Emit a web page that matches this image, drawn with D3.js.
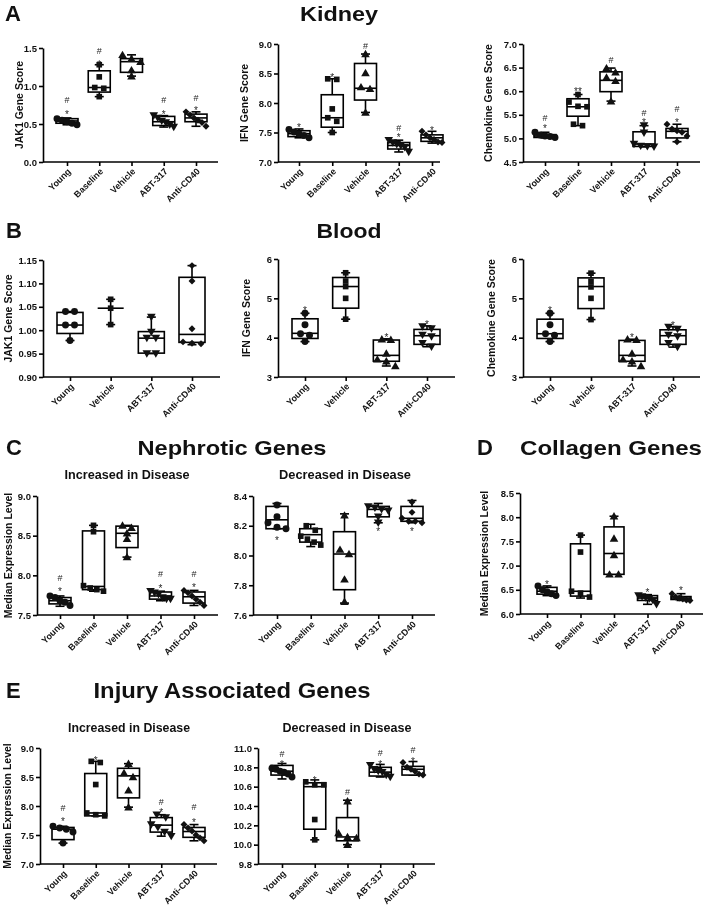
<!DOCTYPE html>
<html><head><meta charset="utf-8">
<script src="https://cdn.jsdelivr.net/npm/d3@7"></script>
<style>body{margin:0;background:#fff} text{font-family:'Liberation Sans',Arial,sans-serif} svg{will-change:transform} .sig{opacity:0.98}</style>
</head><body><script>
// ---------------- DATA ----------------
const groups5 = ["Young","Baseline","Vehicle","ABT-317","Anti-CD40"];
const groups4 = ["Young","Vehicle","ABT-317","Anti-CD40"];
// box stats: [min, q1, median, q3, max]
const kidneyJak1Box = [[0.49,0.51,0.54,0.57,0.58],[0.86,0.92,0.98,1.20,1.28],[1.13,1.18,1.32,1.36,1.41],[0.46,0.48,0.53,0.60,0.61],[0.47,0.53,0.58,0.63,0.66]];
const kidneyJak1Pts = [[0.49,0.51,0.53,0.55,0.57],[0.86,0.97,0.98,1.12,1.28],[1.41,1.36,1.32,1.21,1.13],[0.61,0.58,0.54,0.52,0.49,0.46],[0.66,0.62,0.58,0.55,0.52,0.47]];
const kidneyJak1Sig = [[["#",0.82],["*",0.66]],[["#",1.47],["*",1.31]],[],[["#",0.82],["*",0.66]],[["#",0.85],["*",0.71]]];

const kidneyIfnBox = [[7.41,7.43,7.48,7.53,7.56],[7.50,7.59,7.75,8.14,8.41],[7.84,8.05,8.25,8.67,8.83],[7.17,7.22,7.28,7.33,7.37],[7.32,7.35,7.41,7.46,7.52]];
const kidneyIfnPts = [[7.41,7.45,7.48,7.51,7.55],[8.41,8.40,7.90,7.75,7.69,7.50],[8.83,8.51,8.27,8.24,7.84],[7.37,7.33,7.30,7.28,7.25,7.17],[7.52,7.46,7.41,7.38,7.34,7.33]];
const kidneyIfnSig = [[["*",7.62]],[["*",8.48]],[["#",8.97]],[["#",7.58],["*",7.46]],[["*",7.58]]];

const kidneyChemBox = [[5.01,5.02,5.05,5.08,5.13],[5.27,5.47,5.67,5.84,5.93],[5.79,5.99,6.23,6.41,6.49],[4.82,4.83,4.88,5.14,5.27],[4.93,5.01,5.15,5.21,5.30]];
const kidneyChemPts = [[5.13,5.07,5.05,5.04,5.02],[5.93,5.77,5.68,5.67,5.30,5.27],[6.49,6.40,6.29,6.22,5.79],[5.27,5.12,4.88,4.84,4.83,4.82],[5.30,5.20,5.16,5.13,5.05,4.93]];
const kidneyChemSig = [[["#",5.45],["*",5.27]],[["**",6.05]],[["#",6.67]],[["#",5.55],["*",5.38]],[["#",5.64],["*",5.40]]];

const bloodJak1Box = [[0.978,0.993,1.011,1.038,1.040],[1.012,1.047,1.047,1.047,1.066],[0.950,0.951,0.983,0.997,1.028],[0.969,0.974,0.991,1.113,1.138]];
const bloodJak1Pts = [[1.040,1.040,1.011,1.011,0.978],[1.066,1.047,1.012],[1.028,0.996,0.983,0.983,0.950,0.950],[1.138,1.105,1.003,0.975,0.972,0.971]];
const bloodJak1Sig = [[],[],[],[]];

const bloodIfnBox = [[3.90,3.98,4.11,4.48,4.62],[4.47,4.75,5.30,5.53,5.65],[3.28,3.40,3.55,3.94,3.97],[3.77,3.83,4.05,4.21,4.30]];
const bloodIfnPts = [[4.62,4.33,4.10,4.06,3.90],[5.65,5.44,5.30,5.00,4.47],[3.96,3.95,3.60,3.45,3.40,3.28],[4.28,4.23,4.07,4.03,3.86,3.77]];
const bloodIfnSig = [[["*",4.75]],[],[["*",4.08]],[["*",4.40]]];

const bloodChemBox = [[3.90,3.98,4.10,4.47,4.62],[4.46,4.74,5.30,5.52,5.64],[3.28,3.40,3.55,3.93,3.96],[3.76,3.83,4.05,4.20,4.28]];
const bloodChemPts = [[4.62,4.33,4.10,4.06,3.90],[5.64,5.43,5.29,5.00,4.46],[3.96,3.95,3.60,3.45,3.40,3.28],[4.27,4.22,4.07,4.03,3.86,3.76]];
const bloodChemSig = [[["*",4.75]],[],[["*",4.07]],[["*",4.38]]];

const nephIncBox = [[7.61,7.64,7.68,7.72,7.74],[7.80,7.82,7.86,8.56,8.63],[8.23,8.35,8.53,8.62,8.63],[7.68,7.70,7.74,7.79,7.80],[7.62,7.65,7.73,7.79,7.81]];
const nephIncPts = [[7.74,7.72,7.68,7.66,7.62],[8.63,8.55,7.87,7.84,7.82,7.80],[8.63,8.60,8.53,8.46,8.23],[7.80,7.78,7.76,7.72,7.70,7.70],[7.81,7.78,7.74,7.70,7.66,7.62]];
const nephIncSig = [[["#",7.97],["*",7.83]],[],[],[["#",8.02],["*",7.87]],[["#",8.02],["*",7.88]]];

const nephDecBox = [[8.18,8.18,8.24,8.33,8.35],[8.06,8.09,8.14,8.18,8.21],[7.68,7.77,8.01,8.16,8.28],[8.22,8.26,8.31,8.33,8.35],[8.22,8.23,8.25,8.33,8.37]];
const nephDecPts = [[8.34,8.26,8.22,8.19,8.18],[8.20,8.17,8.13,8.11,8.09,8.07],[8.27,8.04,8.01,7.84,7.69],[8.33,8.32,8.31,8.30,8.26,8.22],[8.36,8.29,8.25,8.23,8.23,8.22]];
const nephDecSig = [[["*",8.12]],[],[],[["*",8.18]],[["*",8.18]]];

const collagenBox = [[6.38,6.41,6.47,6.55,6.58],[6.33,6.37,6.47,7.45,7.63],[6.82,6.82,7.25,7.80,8.02],[6.20,6.28,6.33,6.38,6.40],[6.28,6.30,6.33,6.36,6.42]];
const collagenPts = [[6.58,6.50,6.46,6.42,6.38],[7.63,7.28,6.47,6.43,6.35],[8.02,7.56,7.22,6.82,6.82],[6.38,6.36,6.34,6.32,6.28,6.20],[6.42,6.35,6.33,6.31,6.29,6.28]];
const collagenSig = [[["*",6.67]],[],[],[["*",6.50]],[["*",6.53]]];

const injuryIncBox = [[7.36,7.42,7.60,7.63,7.65],[7.83,7.83,7.88,8.56,8.77],[7.98,8.14,8.52,8.65,8.73],[7.48,7.55,7.67,7.80,7.85],[7.40,7.46,7.56,7.63,7.68]];
const injuryIncPts = [[7.65,7.62,7.60,7.55,7.36],[8.77,8.75,8.37,7.88,7.85,7.83],[8.73,8.57,8.50,8.27,7.98],[7.85,7.80,7.68,7.63,7.55,7.48],[7.68,7.62,7.57,7.50,7.45,7.40]];
const injuryIncSig = [[["#",7.98],["*",7.78]],[["*",8.82]],[],[["#",8.08],["*",7.93]],[["#",8.0],["*",7.76]]];

const injuryDecBox = [[10.68,10.72,10.76,10.82,10.84],[10.05,10.16,10.60,10.64,10.67],[10.00,10.04,10.08,10.28,10.46],[10.70,10.71,10.75,10.80,10.83],[10.72,10.72,10.78,10.81,10.86]];
const injuryDecPts = [[10.79,10.78,10.76,10.75,10.73,10.70],[10.65,10.62,10.62,10.26,10.05],[10.45,10.12,10.08,10.07,10.00],[10.82,10.78,10.76,10.75,10.72,10.70],[10.85,10.80,10.78,10.76,10.73,10.72]];
const injuryDecSig = [[["#",10.94],["*",10.86]],[["*",10.69]],[["#",10.55]],[["#",10.95],["*",10.86]],[["#",10.98],["*",10.89]]];

// tick values
const ticksA1 = [0,0.5,1.0,1.5], ticksA2 = [7.0,7.5,8.0,8.5,9.0], ticksA3 = [4.5,5.0,5.5,6.0,6.5,7.0];
const ticksB1 = [0.90,0.95,1.00,1.05,1.10,1.15], ticksB2 = [3,4,5,6];
const ticksC1 = [7.5,8.0,8.5,9.0], ticksC2 = [7.6,7.8,8.0,8.2,8.4], ticksD = [6.0,6.5,7.0,7.5,8.0,8.5];
const ticksE1 = [7.0,7.5,8.0,8.5,9.0], ticksE2 = [9.8,10.0,10.2,10.4,10.6,10.8,11.0];

// ---------------- DRAW ----------------
const svg = d3.select("body").append("svg").attr("width",709).attr("height",911);
const FONT = "'Liberation Sans', Arial, sans-serif";

function symPath(kind){
  const base = kind==="c"?d3.symbolCircle : kind==="s"?d3.symbolSquare : (kind==="t"||kind==="v")?d3.symbolTriangle : d3.symbolSquare;
  const size = kind==="c"?38 : kind==="s"?32 : kind==="d"?24 : 32;
  return {d: d3.symbol(base,size)(), rot: kind==="v"?180 : kind==="d"?45 : 0, dy: kind==="t"?0.8: kind==="v"?-0.8:0};
}

function drawPanel(p){
  const g = svg.append("g");
  const y = d3.scaleLinear().domain(p.domain).range([p.bottom,p.top]);
  const x = d3.scalePoint().domain(p.groups).range(p.xr);
  const bw = p.boxW||22, cw = 9;
  // y axis
  const ya = g.append("g").attr("transform",`translate(${p.axisX},0)`)
    .call(d3.axisLeft(y).tickValues(p.ticks).tickFormat(d3.format(p.fmt)).tickSize(4).tickSizeOuter(0));
  ya.select(".domain").attr("stroke","#000").attr("stroke-width",1.6);
  ya.selectAll(".tick line").attr("stroke","#000").attr("stroke-width",1.6);
  ya.selectAll(".tick text").attr("font-family",FONT).attr("font-size",9.5).attr("font-weight","bold").attr("fill","#111").attr("x",-6);
  // x axis
  const xa = g.append("g").attr("transform",`translate(0,${p.bottom})`)
    .call(d3.axisBottom(x).tickSize(4).tickSizeOuter(0));
  xa.select(".domain").remove();
  g.append("line").attr("x1",p.axisX).attr("x2",p.right).attr("y1",p.bottom).attr("y2",p.bottom).attr("stroke","#000").attr("stroke-width",1.6);
  xa.selectAll(".tick line").attr("stroke","#000").attr("stroke-width",1.6);
  xa.selectAll(".tick text").attr("font-family",FONT).attr("font-size",9).attr("font-weight","bold").attr("fill","#111")
    .attr("x",0).attr("y",0).attr("dy",0).attr("text-anchor","end").attr("transform","translate(4,10) rotate(-45)");
  // y label
  if(p.ylabel){
    g.append("text").attr("transform",`translate(${p.ylabelX},${(p.top+p.bottom)/2}) rotate(-90)`)
      .attr("text-anchor","middle").attr("font-family",FONT).attr("font-size",10.5).attr("font-weight","bold").attr("fill","#111").text(p.ylabel);
  }
  // boxes
  p.groups.forEach((grp,i)=>{
    const [lo,q1,md,q3,hi] = p.box[i];
    const cx = x(grp);
    const bg = g.append("g").attr("stroke","#000").attr("stroke-width",1.6).attr("fill","none");
    bg.append("line").attr("x1",cx).attr("x2",cx).attr("y1",y(hi)).attr("y2",y(q3));
    bg.append("line").attr("x1",cx).attr("x2",cx).attr("y1",y(q1)).attr("y2",y(lo));
    bg.append("line").attr("x1",cx-cw/2).attr("x2",cx+cw/2).attr("y1",y(hi)).attr("y2",y(hi));
    bg.append("line").attr("x1",cx-cw/2).attr("x2",cx+cw/2).attr("y1",y(lo)).attr("y2",y(lo));
    bg.append("rect").attr("x",cx-bw/2).attr("width",bw).attr("y",y(q3)).attr("height",Math.max(0,y(q1)-y(q3))).attr("fill","#fff");
    bg.append("line").attr("x1",cx-bw/2).attr("x2",cx+bw/2).attr("y1",y(md)).attr("y2",y(md));
    // points with simple spreading
    const pts = p.pts[i].map(v=>({v,py:y(v)})).sort((a,b)=>a.py-b.py);
    const clusters=[]; let cur=[];
    pts.forEach(pt=>{ if(cur.length && pt.py-cur[cur.length-1].py>5){clusters.push(cur);cur=[];} cur.push(pt); });
    if(cur.length) clusters.push(cur);
    const sp = symPath(p.sym[i]);
    clusters.forEach(cl=>{
      const k = cl.length, step = Math.min(9, (bw-2)/(Math.max(1,k-1)));
      cl.forEach((pt,j)=>{
        const ox = (j-(k-1)/2)*step;
        g.append("path").attr("d",sp.d).attr("fill","#111")
          .attr("transform",`translate(${cx+ox},${pt.py+sp.dy}) rotate(${sp.rot})`);
      });
    });
    // significance marks
    p.sig[i].forEach(([s,v])=>{
      g.append("text").attr("class","sig").attr("x",cx).attr("y",y(v)+(s==="#"?3.5:6)).attr("text-anchor","middle")
        .attr("font-family",FONT).attr("font-size",s==="#"?9:10).attr("fill","#222").text(s);
    });
  });
}

const sym5 = ["c","s","t","v","d"];
drawPanel({groups:groups5,box:kidneyJak1Box,pts:kidneyJak1Pts,sig:kidneyJak1Sig,sym:sym5,domain:[0,1.5],ticks:ticksA1,fmt:".1f",axisX:43,right:218,top:48,bottom:162,xr:[67,196],ylabel:"JAK1 Gene Score",ylabelX:23});
drawPanel({groups:groups5,box:kidneyIfnBox,pts:kidneyIfnPts,sig:kidneyIfnSig,sym:sym5,domain:[7,9],ticks:ticksA2,fmt:".1f",axisX:278,right:440,top:44,bottom:162,xr:[299,432],ylabel:"IFN Gene Score",ylabelX:248});
drawPanel({groups:groups5,box:kidneyChemBox,pts:kidneyChemPts,sig:kidneyChemSig,sym:sym5,domain:[4.5,7],ticks:ticksA3,fmt:".1f",axisX:523,right:700,top:44,bottom:162,xr:[545,677],ylabel:"Chemokine Gene Score",ylabelX:492});

drawPanel({groups:groups4,box:bloodJak1Box,pts:bloodJak1Pts,sig:bloodJak1Sig,sym:["c","s","v","d"],domain:[0.9,1.15],ticks:ticksB1,fmt:".2f",axisX:43,right:220,top:260,bottom:377,xr:[70,192],boxW:26,ylabel:"JAK1 Gene Score",ylabelX:12});
drawPanel({groups:groups4,box:bloodIfnBox,pts:bloodIfnPts,sig:bloodIfnSig,sym:["c","s","t","v"],domain:[3,6],ticks:ticksB2,fmt:"d",axisX:278,right:455,top:259,bottom:377,xr:[305,427],boxW:26,ylabel:"IFN Gene Score",ylabelX:250});
drawPanel({groups:groups4,box:bloodChemBox,pts:bloodChemPts,sig:bloodChemSig,sym:["c","s","t","v"],domain:[3,6],ticks:ticksB2,fmt:"d",axisX:523,right:700,top:259,bottom:377,xr:[550,673],boxW:26,ylabel:"Chemokine Gene Score",ylabelX:495});

drawPanel({groups:groups5,box:nephIncBox,pts:nephIncPts,sig:nephIncSig,sym:sym5,domain:[7.5,9],ticks:ticksC1,fmt:".1f",axisX:37,right:218,top:496,bottom:615,xr:[60,194],ylabel:"Median Expression Level",ylabelX:12});
drawPanel({groups:groups5,box:nephDecBox,pts:nephDecPts,sig:nephDecSig,sym:sym5,domain:[7.6,8.4],ticks:ticksC2,fmt:".1f",axisX:253,right:435,top:496,bottom:615,xr:[277,412]});
drawPanel({groups:groups5,box:collagenBox,pts:collagenPts,sig:collagenSig,sym:sym5,domain:[6,8.5],ticks:ticksD,fmt:".1f",axisX:520,right:703,top:493,bottom:614,xr:[547,681],boxW:20,ylabel:"Median Expression Level",ylabelX:488});

drawPanel({groups:groups5,box:injuryIncBox,pts:injuryIncPts,sig:injuryIncSig,sym:sym5,domain:[7,9],ticks:ticksE1,fmt:".1f",axisX:40,right:217,top:748,bottom:864,xr:[63,194],ylabel:"Median Expression Level",ylabelX:11});
drawPanel({groups:groups5,box:injuryDecBox,pts:injuryDecPts,sig:injuryDecSig,sym:sym5,domain:[9.8,11],ticks:ticksE2,fmt:".1f",axisX:258,right:435,top:748,bottom:864,xr:[282,413]});

// headings
function txt(x,y,s,size,anchor,len){
  const t = svg.append("text").attr("x",x).attr("y",y).attr("text-anchor",anchor).attr("font-family",FONT)
    .attr("font-size",size).attr("font-weight","bold").attr("fill","#111").text(s);
  if(len) t.attr("textLength",len).attr("lengthAdjust","spacingAndGlyphs");
}
txt(5,21,"A",22,"start"); txt(339,21,"Kidney",21,"middle",78);
txt(6,238,"B",22,"start"); txt(349,238,"Blood",21,"middle",65);
txt(6,455,"C",22,"start"); txt(232,455,"Nephrotic Genes",21,"middle",189);
txt(477,455,"D",22,"start"); txt(611,455,"Collagen Genes",21,"middle",182);
txt(6,698,"E",22,"start"); txt(232,698,"Injury Associated Genes",22,"middle",277);
txt(127,479,"Increased in Disease",12.5,"middle",125); txt(345,479,"Decreased in Disease",12.5,"middle",132);
txt(129,732,"Increased in Disease",12.5,"middle",122); txt(347,732,"Decreased in Disease",12.5,"middle",129);
</script></body></html>
